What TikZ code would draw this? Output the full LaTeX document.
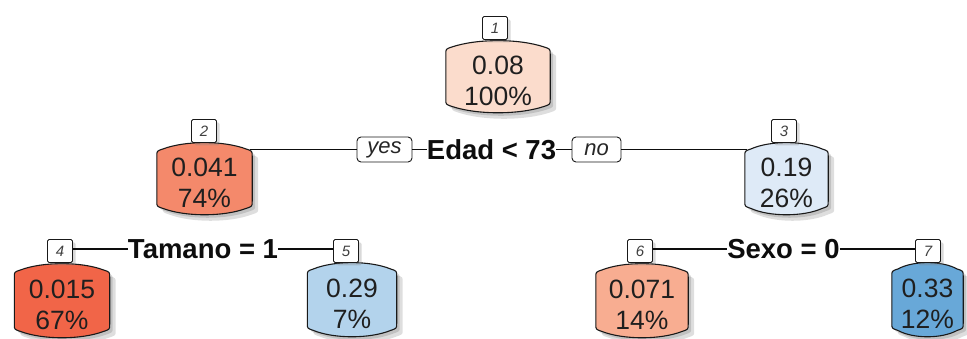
\documentclass[tikz,border=0pt]{standalone}
\usepackage{fontspec}
\setmainfont{Liberation Sans}
\usetikzlibrary{calc,shadows}

% fill colours of the leaves (red = low, blue = high)
\definecolor{fillA}{HTML}{FBDCCC}
\definecolor{fillB}{HTML}{F4896B}
\definecolor{fillC}{HTML}{DEEAF7}
\definecolor{fillD}{HTML}{F16548}
\definecolor{fillE}{HTML}{B3D3EC}
\definecolor{fillF}{HTML}{F8AD91}
\definecolor{fillG}{HTML}{68A8D8}

% barrel-shaped outline around a (textless) rectangle node
\newcommand\barrel[2]{%
  \path[#2]
    ($(#1.north west)+(0,14)$) .. controls ($(#1.north west)+(0,9)$) .. ($(#1.north west)+(6,7)$)
    .. controls ($(#1.north west)!0.3!(#1.north east)+(0,-1.5)$) and ($(#1.north west)!0.7!(#1.north east)+(0,-1.5)$) .. ($(#1.north east)+(-6,7)$)
    .. controls ($(#1.north east)+(0,9)$) .. ($(#1.north east)+(0,14)$)
    -- ($(#1.south east)+(0,-14)$) .. controls ($(#1.south east)+(0,-9)$) .. ($(#1.south east)+(-6,-7)$)
    .. controls ($(#1.south west)!0.7!(#1.south east)+(0,1.5)$) and ($(#1.south west)!0.3!(#1.south east)+(0,1.5)$) .. ($(#1.south west)+(6,-7)$)
    .. controls ($(#1.south west)+(0,-9)$) .. ($(#1.south west)+(0,-14)$) -- cycle;}

% \leaf{name}{centre x}{top y}{width}{height}{fill}{text}
\newcommand\leaf[7]{%
  \node[leafbox, minimum width=#4pt, minimum height=#5pt, anchor=north] (#1) at (#2,#3) {};
  \barrel{#1}{fill=black, opacity=0.13, transform canvas={shift={(3pt,-3pt)}}}
  \barrel{#1}{fill=black, opacity=0.13, transform canvas={shift={(6pt,-6pt)}}}
  \barrel{#1}{fill=#6, draw=black!90, line width=1.1pt}
  \node[leaftext] (#1t) at ($(#1.center)+(0,4)$) {#7};}

\begin{document}
\begin{tikzpicture}[x=1pt, y=-1pt,
  leafbox/.style={rectangle, draw=none, inner sep=0pt},
  leaftext/.style={align=center, inner sep=0pt, text=black!88,
    font=\fontsize{26.5}{31}\selectfont},
  numbox/.style={draw=black!90, fill=white, line width=0.9pt, rounded corners=1.5pt,
    minimum width=25pt, minimum height=23pt, inner sep=0pt, text=black!75,
    font=\itshape\fontsize{15}{15}\selectfont,
    drop shadow={shadow xshift=3pt, shadow yshift=-3pt, opacity=0.3}},
  tag/.style={draw=black!90, fill=white, line width=0.9pt, rounded corners=4pt,
    minimum height=25pt, inner sep=0pt, text=black!85,
    font=\itshape\fontsize{22}{22}\selectfont},
  split/.style={inner sep=0pt, text=black!95,
    font=\bfseries\fontsize{27.5}{27.5}\selectfont},
  edge/.style={draw=black!95, line width=1.4pt}]

\useasboundingbox (0,0) rectangle (967,339);

% leaves and inner nodes
\leaf{n1}{498}{40}{104}{73}{fillA}{0.08\\100\%}
\leaf{n2}{204.5}{142}{95}{73}{fillB}{0.041\\74\%}
\leaf{n3}{786.5}{142}{83}{73}{fillC}{0.19\\26\%}
\leaf{n4}{62}{263}{95}{75}{fillD}{0.015\\67\%}
\leaf{n5}{352}{262}{89}{75}{fillE}{0.29\\7\%}
\leaf{n6}{642}{263}{92}{75}{fillF}{0.071\\14\%}
\leaf{n7}{927.5}{262}{71}{75}{fillG}{0.33\\12\%}

% first split
\node[tag, minimum width=55pt] (yes) at (384.5,149.5) {yes};
\node[split] (s1) at (491.5,149.5) {Edad < 73};
\node[tag, minimum width=49pt] (no) at (596.5,149.5) {no};
\coordinate (c2) at ($(n2.north east)+(-2,7.5)$);
\coordinate (c3) at ($(n3.north west)+(2,7.5)$);
\draw[edge] (c2) -- (yes.west);
\draw[edge] (yes.east) -- (s1.west);
\draw[edge] (s1.east) -- (no.west);
\draw[edge] (no.east) -- (c3);

% node numbers
\node[numbox] (k1) at (495,28) {1};
\node[numbox] (k2) at (204,131) {2};
\node[numbox] (k3) at (784,131) {3};
\node[numbox] (k4) at (60,251) {4};
\node[numbox] (k5) at (346,251) {5};
\node[numbox] (k6) at (640,251) {6};
\node[numbox] (k7) at (928,251) {7};

% second-level splits
\node[split] (s2) at (203,249) {Tamano = 1};
\node[split] (s3) at (783.5,249) {Sexo = 0};
\draw[edge] (k4.east |- s2.west) -- (s2.west);
\draw[edge] (s2.east) -- (k5.west |- s2.east);
\draw[edge] (k6.east |- s3.west) -- (s3.west);
\draw[edge] (s3.east) -- (k7.west |- s3.east);
\end{tikzpicture}
\end{document}
